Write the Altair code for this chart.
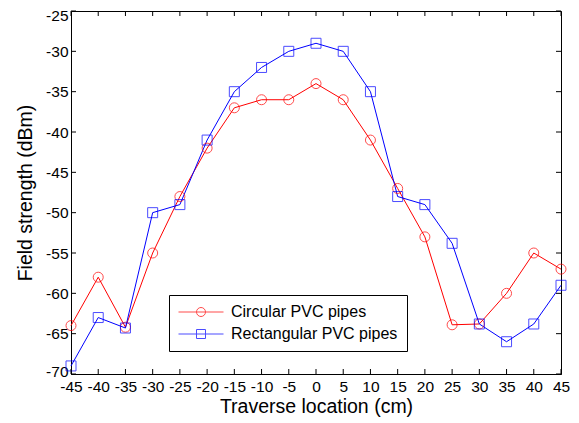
import altair as alt
import pandas as pd

x_vals = [-45, -40, -35, -30, -25, -20, -15, -10, -5, 0, 5, 10, 15, 20, 25, 30, 35, 40, 45]
circular = [-64, -58, -64.2, -55, -48, -42, -37, -36, -36, -34, -36, -41, -47, -53, -63.9, -63.8, -60, -55, -57]
rectangular = [-69, -63, -64.3, -50, -49, -41, -35, -32, -30, -29, -30, -35, -48, -49, -53.8, -63.8, -66, -63.8, -59]
series_names = ["Circular PVC pipes", "Rectangular PVC pipes"]
series_colors = ["#ff0000", "#0000ff"]
x_ticks = list(range(-45, 50, 5))
y_ticks = list(range(-70, -20, 5))

rows = []
for name, vals in zip(series_names, [circular, rectangular]):
    for xv, yv in zip(x_vals, vals):
        rows.append({"x": xv, "y": yv, "series": name})
df = pd.DataFrame(rows)

W, H = 490, 363
FONT = "Liberation Sans"

xscale = alt.Scale(domain=[-45, 45], nice=False, zero=False)
yscale = alt.Scale(domain=[-70, -25], nice=False, zero=False)
cscale = alt.Scale(domain=series_names, range=series_colors)
legend_shapes = [
    "M-1,0H1M0.2,0A0.2,0.2,0,1,1,-0.2,0A0.2,0.2,0,1,1,0.2,0",
    "M-1,0H1M-0.2,-0.2H0.2V0.2H-0.2Z",
]
sscale = alt.Scale(domain=series_names, range=legend_shapes)

leg = alt.Legend(
    title=None, orient="none", legendX=98, legendY=284,
    strokeColor="black", fillColor="white", padding=9,
    symbolSize=2025, symbolStrokeWidth=1, clipHeight=16, rowPadding=6,
    labelFont=FONT, labelFontSize=16, labelColor="black", labelOffset=7,
    labelLimit=400, cornerRadius=0,
)

axis_common = dict(ticks=False, grid=False, labelOverlap=False, labelFlush=False,
                   labelFont=FONT, labelFontSize=15.5, labelColor="black",
                   titleFont=FONT, titleFontSize=19.5, titleFontWeight="normal",
                   titleColor="black", domainColor="black",
                   labelExpr="'' + datum.value")
xenc = alt.X("x:Q", scale=xscale, title="Traverse location (cm)",
             axis=alt.Axis(values=x_ticks, labelPadding=5, titlePadding=3, **axis_common))
yenc = alt.Y("y:Q", scale=yscale, title="Field strength (dBm)",
             axis=alt.Axis(values=y_ticks, labelPadding=3, titlePadding=10,
                           labelOffset={"condition": [
                               {"test": "datum.value == -25", "value": 4.5},
                               {"test": "datum.value == -70", "value": -2.5}],
                               "value": 0},
                           **axis_common))
cenc = alt.Color("series:N", scale=cscale, legend=leg)

base = alt.Chart(df)
lines = base.mark_line(strokeWidth=1).encode(x=xenc, y=yenc, color=cenc, detail="series:N")
pts_c = base.transform_filter(alt.datum.series == series_names[0]).mark_point(
    shape="circle", size=100, filled=False, strokeWidth=1).encode(x=xenc, y=yenc, color=cenc)
pts_r = base.transform_filter(alt.datum.series == series_names[1]).mark_point(
    shape="square", size=100, filled=False, strokeWidth=1).encode(x=xenc, y=yenc, color=cenc)
leg_layer = base.transform_filter("false").mark_point(filled=False, strokeWidth=1).encode(
    x=xenc, y=yenc, color=cenc, shape=alt.Shape("series:N", scale=sscale, legend=leg))

xt = pd.DataFrame({"x": x_ticks})
yt = pd.DataFrame({"y": y_ticks})
tick_b = alt.Chart(xt).mark_rule(color="black", strokeWidth=1).encode(
    x=xenc, y=alt.value(H), y2=alt.value(H - 5))
tick_t = alt.Chart(xt).mark_rule(color="black", strokeWidth=1).encode(
    x=xenc, y=alt.value(0), y2=alt.value(5))
tick_l = alt.Chart(yt).mark_rule(color="black", strokeWidth=1).encode(
    y=yenc, x=alt.value(0), x2=alt.value(5))
tick_r = alt.Chart(yt).mark_rule(color="black", strokeWidth=1).encode(
    y=yenc, x=alt.value(W - 5), x2=alt.value(W))

chart = alt.layer(lines, pts_c, pts_r, leg_layer, tick_b, tick_t, tick_l, tick_r).properties(
    width=W, height=H,
    background="white",
    autosize=alt.AutoSizeParams(type="none"),
    padding={"left": 63, "top": 3, "right": 10, "bottom": 48},
).configure_view(stroke="black", strokeWidth=1)

chart.save("out.html", embed_options={"renderer": "svg", "actions": False})
